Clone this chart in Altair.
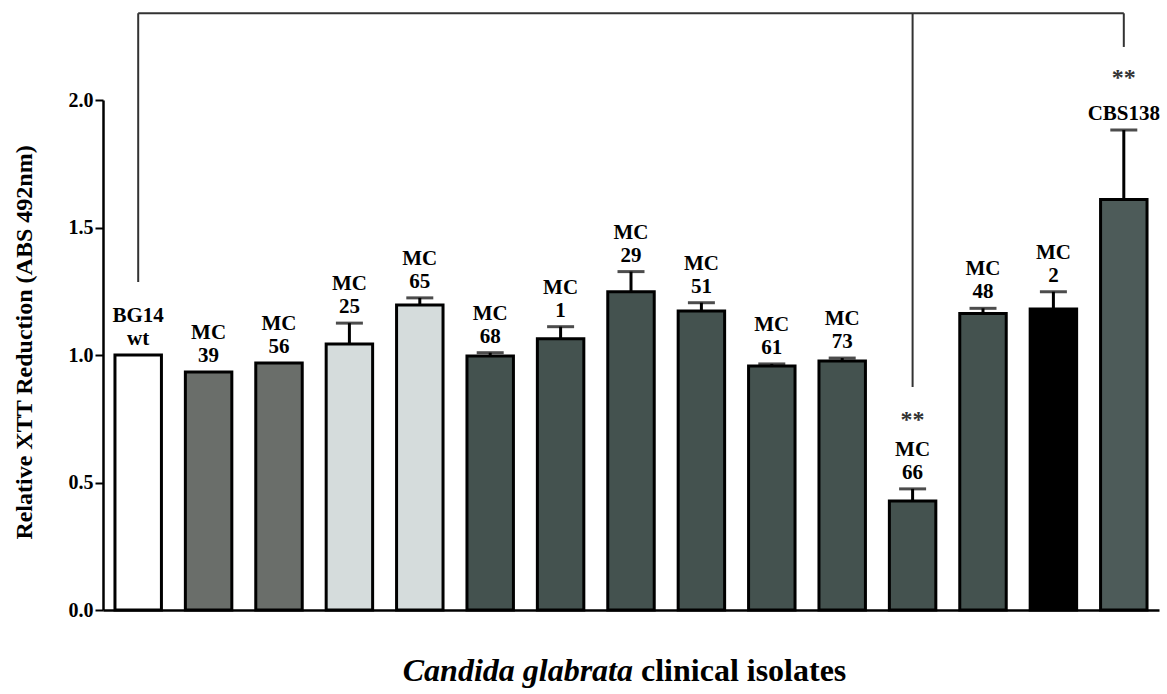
import altair as alt
import pandas as pd

# ---- data ----
names = ["BG14 wt", "MC 39", "MC 56", "MC 25", "MC 65", "MC 68", "MC 1", "MC 29",
         "MC 51", "MC 61", "MC 73", "MC 66", "MC 48", "MC 2", "CBS138"]
label_top = ["BG14", "MC", "MC", "MC", "MC", "MC", "MC", "MC",
             "MC", "MC", "MC", "MC", "MC", "MC", ""]
label_bottom = ["wt", "39", "56", "25", "65", "68", "1", "29",
                "51", "61", "73", "66", "48", "2", "CBS138"]
means = [1.000, 0.933, 0.969, 1.043, 1.196, 0.996, 1.064, 1.248,
         1.173, 0.957, 0.976, 0.427, 1.163, 1.180, 1.610]
uppers = [1.000, 0.933, 0.969, 1.125, 1.224, 1.009, 1.111, 1.327,
          1.205, 0.965, 0.988, 0.475, 1.183, 1.248, 1.882]
stars = ["", "", "", "", "", "", "", "", "", "", "", "**", "", "", "**"]
fills = ["#ffffff", "#6a6e6a", "#6a6e6a", "#d5dcdc", "#d5dcdc", "#44524f", "#44524f", "#44524f",
         "#44524f", "#44524f", "#44524f", "#44524f", "#44524f", "#000000", "#4d5b59"]

# comparison bracket (data units)
bracket_top = 2.34
bracket_names = ["BG14 wt", "MC 66", "CBS138"]
bracket_ends = [1.286, 0.875, 2.208]

FONT = "Liberation Serif"

df = pd.DataFrame({
    "name": names, "ltop": label_top, "lbot": label_bottom, "mean": means,
    "upper": uppers, "star": stars, "fill": fills,
})
df["top"] = df[["mean", "upper"]].max(axis=1)

bdf = pd.DataFrame({"name": bracket_names, "y0": [bracket_top] * 3, "y1": bracket_ends})
hdf = pd.DataFrame({"a": [bracket_names[0]], "b": [bracket_names[-1]], "y": [bracket_top]})

xscale = alt.Scale(domain=names, paddingInner=0.34, paddingOuter=0.17)
yscale = alt.Scale(domain=[0, 2], nice=False)

x = alt.X("name:N", sort=names, scale=xscale,
          axis=alt.Axis(labels=False, ticks=False, title=None, domainWidth=2.5,
                        domainColor="black"))
xs = alt.X("name:N", sort=names, scale=xscale)

base = alt.Chart(df)

bars = base.mark_bar(stroke="black", strokeWidth=3).encode(
    x=x,
    y=alt.Y("mean:Q", scale=yscale,
            axis=alt.Axis(values=[0, 0.5, 1.0, 1.5, 2.0], format=".1f", grid=False,
                          title="Relative XTT Reduction (ABS 492nm)",
                          titleFont=FONT, titleFontSize=24, titleFontWeight="bold",
                          titleColor="black", titleAngle=270, titleAlign="center",
                          titleBaseline="middle", titleX=-79, titleY=242,
                          labelFont=FONT, labelFontSize=20, labelFontWeight="bold",
                          labelColor="black", labelPadding=2,
                          tickSize=8, tickWidth=2, tickColor="black",
                          domainWidth=2.5, domainColor="black")),
    fill=alt.Fill("fill:N", scale=None),
)

errs = base.transform_filter("datum.upper > datum.mean")
err_rule = errs.mark_rule(strokeWidth=3, color="black").encode(
    x=xs, y=alt.Y("mean:Q", scale=yscale), y2="upper:Q")
err_cap = errs.mark_tick(size=27, thickness=3, color="black").encode(
    x=xs, y=alt.Y("upper:Q", scale=yscale))

tstyle = dict(font=FONT, fontSize=21, fontWeight="bold", color="black", baseline="alphabetic")
text_bot = base.mark_text(dy=-10, **tstyle).encode(
    x=xs, y=alt.Y("top:Q", scale=yscale), text="lbot:N")
text_top = base.transform_filter("datum.ltop != ''").mark_text(dy=-33, **tstyle).encode(
    x=xs, y=alt.Y("top:Q", scale=yscale), text="ltop:N")

sstyle = dict(font=FONT, fontSize=24, fontWeight="bold", color="#333333", baseline="alphabetic")
star2 = base.transform_filter("datum.star != '' && datum.ltop != ''").mark_text(
    dy=-62, **sstyle).encode(x=xs, y=alt.Y("top:Q", scale=yscale), text="star:N")
star1 = base.transform_filter("datum.star != '' && datum.ltop == ''").mark_text(
    dy=-45, **sstyle).encode(x=xs, y=alt.Y("top:Q", scale=yscale), text="star:N")

legs = alt.Chart(bdf).mark_rule(strokeWidth=2, color="#333333").encode(
    x=xs, y=alt.Y("y0:Q", scale=yscale), y2="y1:Q")
hline = alt.Chart(hdf).mark_rule(strokeWidth=2, color="#333333").encode(
    x=alt.X("a:N", sort=names, scale=xscale), x2="b:N",
    y=alt.Y("y:Q", scale=yscale))

xt_df = pd.DataFrame({"t1": ["Candida glabrata"], "t2": ["clinical isolates"]})
xt1 = alt.Chart(xt_df).mark_text(font=FONT, fontSize=32, fontWeight="bold",
                                 fontStyle="italic", align="right", baseline="alphabetic",
                                 color="black").encode(
    x=alt.value(530), y=alt.value(581), text="t1:N")
xt2 = alt.Chart(xt_df).mark_text(font=FONT, fontSize=32, fontWeight="bold",
                                 align="left", baseline="alphabetic",
                                 color="black").encode(
    x=alt.value(538), y=alt.value(581), text="t2:N")

chart = alt.layer(bars, err_rule, err_cap, text_bot, text_top, star2, star1,
                  legs, hline, xt1, xt2).properties(
    width=1056, height=510,
    autosize=alt.AutoSizeParams(type="none"),
    padding={"left": 103, "top": 100, "right": 8, "bottom": 84},
    background="white",
).configure_view(stroke=None)

chart.save("out.html", embed_options={"renderer": "svg", "actions": False})
